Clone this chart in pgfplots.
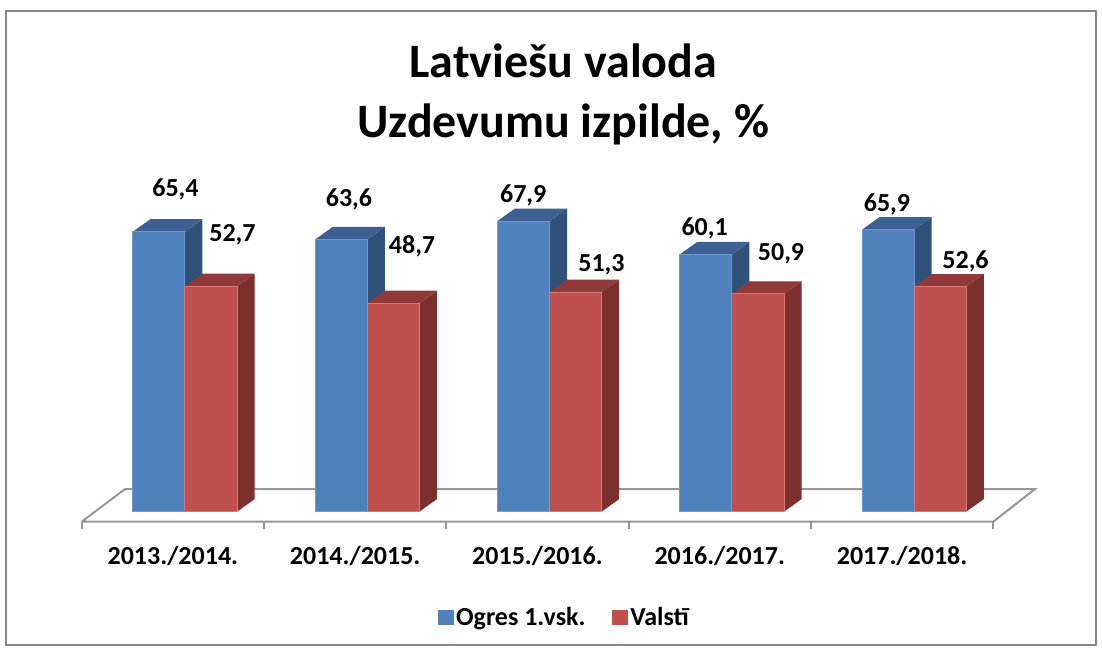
\documentclass[border=0pt]{standalone}
\usepackage{fontspec}
\setmainfont{Carlito}
\usepackage{pgfplots}
\usepackage{pgfplotstable}
\pgfplotsset{compat=1.18}
\definecolor{bfront}{RGB}{79,129,189}
\definecolor{btop}{RGB}{60,96,145}
\definecolor{bside}{RGB}{48,82,122}
\definecolor{bedge}{RGB}{112,152,206}
\definecolor{rfront}{RGB}{192,80,77}
\definecolor{rtop}{RGB}{143,58,56}
\definecolor{rside}{RGB}{124,48,46}
\definecolor{redge}{RGB}{212,122,119}
\definecolor{framegray}{RGB}{134,134,134}
\definecolor{floorgray}{RGB}{150,150,150}

\pgfplotstableread{
cat blue red
0 65.4 52.7
1 63.6 48.7
2 67.9 51.3
3 60.1 50.9
4 65.9 52.6
}\data

% side and top faces of a bar: #1 left x of front face, #2 value, #3 top colour, #4 side colour
\newcommand\barfaces[4]{%
  \pgfmathsetmacro\xa{#1}%
  \pgfmathsetmacro\xb{#1+0.286}%
  \pgfmathsetmacro\xc{#1+0.286+0.0965}%
  \pgfmathsetmacro\xd{#1+0.0965}%
  \pgfmathsetmacro\yt{#2+2.94}%
  \edef\tmp{%
    \noexpand\addplot[fill=#4, draw=none, forget plot] coordinates {(\xb,0) (\xb,#2) (\xc,\yt) (\xc,2.94) (\xb,0)};%
    \noexpand\addplot[fill=#3, draw=none, forget plot] coordinates {(\xa,#2) (\xb,#2) (\xc,\yt) (\xd,\yt) (\xa,#2)};%
  }\tmp}

\newcommand\bigfont{\bfseries\fontsize{36}{43}\selectfont}
\newcommand\labfont{\bfseries\fontsize{19.5}{23}\selectfont}

\begin{document}
\begin{tikzpicture}
\useasboundingbox (0,0) rectangle (826.5pt,487.5pt);
\draw[framegray, line width=1.5pt] (4.5pt,3.75pt) rectangle (822pt,479.25pt);
\begin{axis}[
  at={(0,0)}, anchor=south west,
  scale only axis, width=826.5pt, height=487.5pt,
  xmin=-0.4482, xmax=5.5968, ymin=-32.31, ymax=119.56,
  axis line style={draw=none},
  ytick=\empty,
  xtick={0.5,1.5,2.5,3.5,4.5},
  xticklabels={2013./2014.,2014./2015.,2015./2016.,2016./2017.,2017./2018.},
  major tick length=0pt,
  xticklabel style={font=\labfont, anchor=base, yshift=64.3pt},
  clip=false,
  legend style={at={(0.5125,0.05)}, anchor=center, draw=none, fill=none,
    legend columns=2, font=\labfont,
    /tikz/every even column/.append style={column sep=18pt}},
]
\addplot[floorgray, line width=1.5pt, forget plot] coordinates {(0,-2.34) (5,-2.34) (5.229,5.30) (0.2375,5.30) (0,-2.34)};
\pgfplotsinvokeforeach{0,...,5}{\addplot[floorgray, line width=1.5pt, forget plot] coordinates {(#1,-2.34) (#1,-4.1)};}

\pgfplotsinvokeforeach{0,...,4}{\pgfplotstablegetelem{#1}{blue}\of\data \let\val\pgfplotsretval \barfaces{#1+0.28}{\val}{btop}{bside}}
\addplot[ybar, bar width=0.286, bar shift=0, fill=bfront, draw=bedge, line width=0.6pt,
  legend image code/.code={\fill[bfront] (0pt,-5.5pt) rectangle (11pt,5.5pt);}]
  table[x expr=\thisrow{cat}+0.423, y=blue]{\data};
\addlegendentry{Ogres 1.vsk.}

\pgfplotsinvokeforeach{0,...,4}{\pgfplotstablegetelem{#1}{red}\of\data \let\val\pgfplotsretval \barfaces{#1+0.566}{\val}{rtop}{rside}}
\addplot[ybar, bar width=0.286, bar shift=0, fill=rfront, draw=redge, line width=0.6pt,
  legend image code/.code={\fill[rfront] (0pt,-5.5pt) rectangle (11pt,5.5pt);}]
  table[x expr=\thisrow{cat}+0.709, y=red]{\data};
\addlegendentry{Valstī}

\node[font=\labfont, anchor=base] at (axis cs:0.5145,73.76) {65,4};
\node[font=\labfont, anchor=base] at (axis cs:0.827,63.08) {52,7};
\node[font=\labfont, anchor=base] at (axis cs:1.466,71.26) {63,6};
\node[font=\labfont, anchor=base] at (axis cs:1.812,60.44) {48,7};
\node[font=\labfont, anchor=base] at (axis cs:2.422,72.24) {67,9};
\node[font=\labfont, anchor=base] at (axis cs:2.851,56.07) {51,3};
\node[font=\labfont, anchor=base] at (axis cs:3.417,64.49) {60,1};
\node[font=\labfont, anchor=base] at (axis cs:3.836,58.80) {50,9};
\node[font=\labfont, anchor=base] at (axis cs:4.417,70.09) {65,9};
\node[font=\labfont, anchor=base] at (axis cs:4.848,56.86) {52,6};
\end{axis}
\node[font=\bigfont, anchor=base] at (422.5pt,429.2pt) {Latviešu valoda};
\node[font=\bigfont, anchor=base] at (422.5pt,384.6pt) {Uzdevumu izpilde, \%};
\end{tikzpicture}
\end{document}
